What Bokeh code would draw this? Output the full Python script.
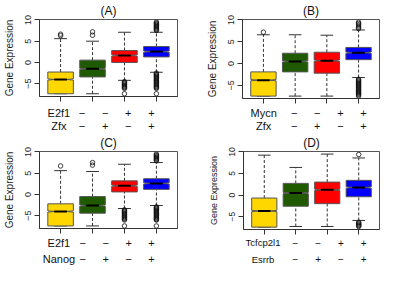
from bokeh.plotting import figure
from bokeh.layouts import column, row
from bokeh.models import Range1d
from bokeh.core.properties import value
from bokeh.embed import file_html
from bokeh.resources import INLINE

FONT = "Liberation Sans"
COLORS = ["#FFD700", "#1F5A00", "#FF0000", "#0000FF"]
GROUPS = [1, 2, 3, 4]
Y_TICKS = [-5, 0, 5, 10]
Y_LABEL = "Gene Expression"

# ---------------- Panel A ----------------
a_title = "(A)"
a_names = ["E2f1", "Zfx"]
a_row1 = ["−", "−", "+", "+"]
a_row2 = ["−", "+", "−", "+"]
a_q1 = [-7.35, -3.4, 0.0, 1.3]
a_med = [-4.0, -1.5, 1.65, 2.55]
a_q3 = [-2.25, 0.55, 2.8, 3.75]
a_lo = [-7.35, -7.35, -4.2, -2.3]
a_hi = [5.6, 5.0, 7.1, 7.1]
a_out = [
    [6.3, 6.65],
    [6.4, 7.2],
    [-4.5, -4.7, -4.9, -5.1, -5.3, -5.5, -5.7, -5.9, -6.1, -7.35],
    [7.5, 7.7, 7.9, 8.1, 8.3, 8.5, 8.7, 8.9, 9.1, 9.3, 9.5,
     -2.5, -2.7, -2.9, -3.1, -3.3, -3.5, -3.7, -3.9, -4.1, -4.3, -4.5,
     -4.7, -4.9, -5.1, -5.3, -5.5, -5.7, -5.9, -6.1, -7.35],
]

# ---------------- Panel B ----------------
b_title = "(B)"
b_names = ["Mycn", "Zfx"]
b_row1 = ["−", "−", "+", "+"]
b_row2 = ["−", "+", "−", "+"]
b_q1 = [-7.45, -1.9, -2.2, 0.9]
b_med = [-3.8, 0.5, 0.67, 2.5]
b_q3 = [-1.9, 2.37, 2.6, 3.7]
b_lo = [-7.45, -7.45, -7.45, -3.2]
b_hi = [6.6, 6.6, 6.5, 7.7]
b_out = [
    [7.2],
    [],
    [],
    [8.0, 8.3, 8.6, 8.9, 9.2, 9.5,
     -3.6, -3.8, -4.0, -4.2, -4.4, -4.6, -4.8, -5.0, -5.2, -5.4, -5.6,
     -5.8, -6.0, -6.2, -6.4, -6.6, -6.8, -7.0, -7.2, -7.45],
]

# ---------------- Panel C ----------------
c_title = "(C)"
c_names = ["E2f1", "Nanog"]
c_row1 = ["−", "−", "+", "+"]
c_row2 = ["−", "+", "−", "+"]
c_q1 = [-7.4, -4.4, 0.6, 1.2]
c_med = [-4.0, -2.6, 2.05, 2.6]
c_q3 = [-2.2, -0.5, 3.2, 3.7]
c_lo = [-7.4, -7.4, -3.3, -2.6]
c_hi = [5.6, 5.4, 7.1, 7.5]
c_out = [
    [6.7],
    [6.9, 7.5],
    [-3.6, -3.8, -4.0, -4.2, -4.4, -4.6, -4.8, -5.0, -5.2, -5.4, -5.6,
     -5.8, -6.0, -7.4],
    [7.9, 8.1, 8.3, 8.5, 8.7, 8.9, 9.1, 9.3, 9.5,
     -2.9, -3.1, -3.3, -3.5, -3.7, -3.9, -4.1, -4.3, -4.5, -4.7, -4.9,
     -5.1, -5.3, -5.5, -5.7, -5.9, -6.0, -7.4],
]

# ---------------- Panel D ----------------
d_title = "(D)"
d_names = ["Tcfcp2l1", "Esrrb"]
d_row1 = ["−", "−", "+", "+"]
d_row2 = ["−", "+", "−", "+"]
d_q1 = [-7.45, -2.6, -2.0, -0.4]
d_med = [-3.7, 0.45, 1.2, 1.75]
d_q3 = [-0.7, 2.7, 3.0, 3.4]
d_lo = [-7.45, -7.3, -7.3, -5.9]
d_hi = [9.25, 6.4, 9.5, 8.6]
d_out = [
    [],
    [],
    [],
    [9.4, -6.3, -6.5, -6.7, -6.9, -7.1, -7.3],
]

# axis ranges (R style: data range padded by 4%)
X_LO, X_HI = 0.34, 4.66
Y_LO, Y_HI = -8.0, 10.1

BOX_HALF = 0.4
NOTCH_FRAC = 0.5
NOTCH_H = 0.15
STAPLE_HALF = 0.2


def panel(title, names, row1, row2, q1, med, q3, lo, hi, outs,
          w, main_h, rows_h, L, R, T, row_px, name_dx,
          name_font, sign_font, ylab_font, tick_font):
    p = figure(width=w, height=main_h, x_range=Range1d(X_LO, X_HI),
               y_range=Range1d(Y_LO, Y_HI), output_backend="svg",
               toolbar_location=None, min_border_left=L, min_border_right=R,
               min_border_top=T, min_border_bottom=6)
    p.background_fill_color = "white"
    p.border_fill_color = "white"
    p.grid.visible = False
    p.outline_line_color = "#555555"
    p.outline_line_width = 1

    p.title.text = title
    p.title.align = "center"
    p.title.text_font = FONT
    p.title.text_font_size = "12px"
    p.title.text_font_style = "normal"
    p.title.text_color = "#111111"
    p.title.standoff = 3
    p.title.offset = 0

    ya = p.yaxis[0]
    ya.ticker = Y_TICKS
    ya.major_label_orientation = "vertical"
    ya.major_tick_out = 5
    ya.major_tick_in = 0
    ya.minor_tick_line_color = None
    ya.major_label_standoff = 3
    ya.major_label_text_font = FONT
    ya.major_label_text_font_size = tick_font
    ya.major_label_text_color = "#222222"
    ya.axis_line_color = "#333333"
    ya.major_tick_line_color = "#333333"
    ya.axis_label = Y_LABEL
    ya.axis_label_text_font = FONT
    ya.axis_label_text_font_size = ylab_font
    ya.axis_label_text_font_style = "normal"
    ya.axis_label_text_color = "#222222"
    ya.axis_label_standoff = 8

    xa = p.xaxis[0]
    xa.ticker = GROUPS
    xa.major_tick_out = 5
    xa.major_tick_in = 0
    xa.minor_tick_line_color = None
    xa.major_label_overrides = {g: "" for g in GROUPS}
    xa.major_label_standoff = 0
    xa.axis_line_color = "#333333"
    xa.major_tick_line_color = "#333333"

    # whiskers (dashed) and staples
    xs_c = GROUPS
    p.segment(x0=xs_c, y0=q3, x1=xs_c, y1=hi, line_color="#333333",
              line_dash="3 2", line_width=1)
    p.segment(x0=xs_c, y0=lo, x1=xs_c, y1=q1, line_color="#333333",
              line_dash="3 2", line_width=1)
    p.segment(x0=[c - STAPLE_HALF for c in xs_c], y0=hi,
              x1=[c + STAPLE_HALF for c in xs_c], y1=hi,
              line_color="#333333", line_width=1)
    p.segment(x0=[c - STAPLE_HALF for c in xs_c], y0=lo,
              x1=[c + STAPLE_HALF for c in xs_c], y1=lo,
              line_color="#333333", line_width=1)

    # notched boxes
    pxs, pys = [], []
    wn = BOX_HALF * NOTCH_FRAC
    for c, a, m, b in zip(xs_c, q1, med, q3):
        wb = BOX_HALF
        pxs.append([c - wb, c + wb, c + wb, c + wn, c + wb, c + wb,
                    c - wb, c - wb, c - wn, c - wb])
        pys.append([a, a, m - NOTCH_H, m, m + NOTCH_H, b, b,
                    m + NOTCH_H, m, m - NOTCH_H])
    p.patches(xs=pxs, ys=pys, fill_color=COLORS, line_color="#555555",
              line_width=1)

    # medians
    p.segment(x0=[c - wn for c in xs_c], y0=med, x1=[c + wn for c in xs_c],
              y1=med, line_color="black", line_width=2)

    # outliers
    ox, oy = [], []
    for c, vals in zip(xs_c, outs):
        for v in vals:
            ox.append(c)
            oy.append(v)
    p.scatter(x=ox, y=oy, marker="circle", size=4.5, fill_color=None,
              line_color="#111111", line_width=0.8)

    # factor rows in a strip below, aligned to the same x scale
    px = (w - L - R) / (X_HI - X_LO)
    q = figure(width=w, height=rows_h,
               x_range=Range1d(X_LO - L / px, X_HI + R / px),
               y_range=Range1d(rows_h, 0), output_backend="svg",
               toolbar_location=None, x_axis_location=None,
               y_axis_location=None, min_border=0)
    q.grid.visible = False
    q.outline_line_color = None
    q.background_fill_color = "white"
    q.border_fill_color = "white"
    for rp, signs, nm in zip(row_px, [row1, row2], names):
        y_in = rp - main_h
        q.text(x=GROUPS, y=[y_in] * len(GROUPS), text=signs,
               text_align="center", text_baseline="middle",
               text_font=value(FONT), text_font_size=value(sign_font),
               text_color="#111111")
        q.text(x=[X_LO - name_dx / px], y=[y_in], text=[nm],
               text_align="center", text_baseline="middle",
               text_font=value(FONT), text_font_size=value(name_font),
               text_color="#111111")
    return column(p, q, spacing=0)


# (w, main_h, rows_h, L, R, T, row positions, name offset, fonts)
pa = panel(a_title, a_names, a_row1, a_row2, a_q1, a_med, a_q3, a_lo, a_hi, a_out,
           192, 102, 30, 38, 15, 16, [112, 125], 11,
           "11px", "11px", "10px", "9px")
pb = panel(b_title, b_names, b_row1, b_row2, b_q1, b_med, b_q3, b_lo, b_hi, b_out,
           188, 104, 28, 50, 1, 17, [112, 125], 21,
           "11px", "11px", "10px", "9px")
pc = panel(c_title, c_names, c_row1, c_row2, c_q1, c_med, c_q3, c_lo, c_hi, c_out,
           192, 102, 31, 39, 15, 14, [110.3, 126], 12,
           "11px", "11px", "10px", "9px")
pd = panel(d_title, d_names, d_row1, d_row2, d_q1, d_med, d_q3, d_lo, d_hi, d_out,
           188, 103, 30, 51, 1, 16, [110.3, 126.5], 24,
           "9.5px", "10px", "9px", "8.5px")

layout = column(row(pa, pb, spacing=0), row(pc, pd, spacing=0), spacing=0)

open("out.html", "w").write(file_html(layout, INLINE))
